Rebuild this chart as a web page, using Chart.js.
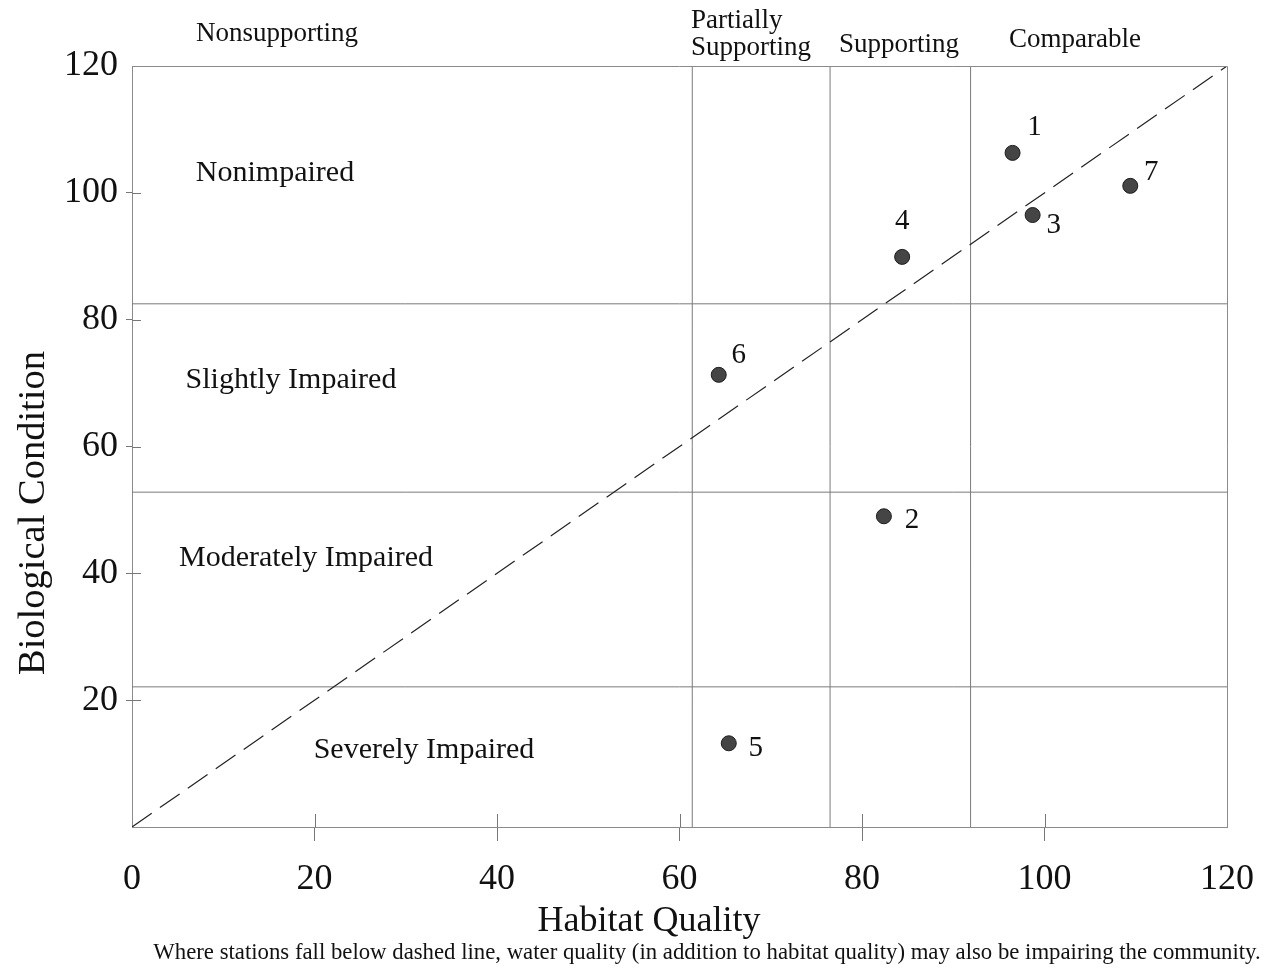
<!DOCTYPE html>
<html><head><meta charset="utf-8">
<script src="https://cdn.jsdelivr.net/npm/chart.js@4/dist/chart.umd.min.js"></script>
<style>html,body{margin:0;padding:0;background:#fff}#wrap{width:1280px;height:968px;position:relative}</style>
</head><body><div id="wrap"><canvas id="c" width="1280" height="968"></canvas></div>
<script>
// ---- data ----
const stations = ['1', '2', '3', '4', '5', '6', '7'];
const habitatQuality = [96.5, 82.4, 98.7, 84.4, 65.4, 64.3, 109.4];
const biologicalCondition = [106.3, 49.0, 96.5, 89.9, 13.2, 71.3, 101.1];
const habitatBreaks = [61.4, 76.5, 91.9];
const biologicalBreaks = [82.5, 52.8, 22.1];
const referenceLine = [0, 120];
const xTickValues = [0, 20, 40, 60, 80, 100, 120];
const yTickValues = [0, 20, 40, 60, 80, 100, 120];
const habitatCategories = ['Nonsupporting', 'Partially|Supporting', 'Supporting', 'Comparable'];
const biologicalCategories = ['Nonimpaired', 'Slightly Impaired', 'Moderately Impaired', 'Severely Impaired'];
const xTitle = 'Habitat Quality';
const yTitle = 'Biological Condition';
const footnote = 'Where stations fall below dashed line, water quality (in addition to habitat quality) may also be impairing the community.';

// ---- styles / placement (not data) ----
const FONT = "'Liberation Serif', 'Times New Roman', serif";
const labelOffsets = [[22, -25], [28, 4], [21, 10], [0, -35], [27, 5], [20, -19], [21, -13]];
const headerPos = [[277, 34, 'center'], [691, 21, 'left'], [839, 45, 'left'], [1009, 40, 'left']];
const rowPos = [[275, 173], [291, 380], [306, 558], [424, 750]];

const datasets = [];
datasets.push({
  label: 'Stations',
  data: stations.map((s, i) => ({x: habitatQuality[i], y: biologicalCondition[i]})),
  pointRadius: 7.5, pointHoverRadius: 7.5,
  backgroundColor: '#454545', borderColor: '#1c1c1c', borderWidth: 1,
  showLine: false
});
datasets.push({
  label: 'Reference',
  data: referenceLine.map(v => ({x: v, y: v})),
  showLine: true, pointRadius: 0, borderColor: '#222', borderWidth: 1.2,
  borderDash: [24, 10], fill: false
});
habitatBreaks.forEach(b => datasets.push({
  label: 'h' + b, data: [{x: b, y: 0}, {x: b, y: 120}],
  showLine: true, pointRadius: 0, borderColor: '#7a7a7a', borderWidth: 1, fill: false
}));
biologicalBreaks.forEach(b => datasets.push({
  label: 'b' + b, data: [{x: 0, y: b}, {x: 120, y: b}],
  showLine: true, pointRadius: 0, borderColor: '#7a7a7a', borderWidth: 1, fill: false
}));

const textPlugin = {
  id: 'texts',
  afterDraw(chart) {
    const ctx = chart.ctx;
    const a = chart.chartArea;
    const xs = chart.scales.x, ys = chart.scales.y;
    ctx.save();
    // box
    ctx.strokeStyle = '#8a8a8a'; ctx.lineWidth = 1;
    ctx.beginPath();
    ctx.moveTo(a.left, a.top + 0.5); ctx.lineTo(a.right + 0.5, a.top + 0.5); ctx.lineTo(a.right + 0.5, a.bottom);
    ctx.stroke();
    // inner tick parts
    ctx.strokeStyle = '#777';
    ctx.beginPath();
    xTickValues.forEach(v => { if (v > 0 && v < 120) { const px = Math.round(xs.getPixelForValue(v)) + 0.5; ctx.moveTo(px, a.bottom); ctx.lineTo(px, a.bottom - 13); } });
    yTickValues.forEach(v => { if (v > 0 && v < 120) { const py = Math.round(ys.getPixelForValue(v)) + 0.5; ctx.moveTo(a.left, py); ctx.lineTo(a.left + 9, py); } });
    ctx.stroke();

    ctx.fillStyle = '#111';
    ctx.textBaseline = 'middle';
    // point labels
    ctx.font = '29px ' + FONT; ctx.textAlign = 'center';
    stations.forEach((s, i) => {
      const px = xs.getPixelForValue(habitatQuality[i]) + labelOffsets[i][0];
      const py = ys.getPixelForValue(biologicalCondition[i]) + labelOffsets[i][1];
      ctx.fillText(s, px, py);
    });
    // headers
    ctx.font = '27px ' + FONT;
    habitatCategories.forEach((t, i) => {
      const [x, y, al] = headerPos[i];
      ctx.textAlign = al;
      const parts = t.split('|');
      parts.forEach((p, k) => ctx.fillText(p, x, y + k * 27));
    });
    // rows
    ctx.font = '30px ' + FONT; ctx.textAlign = 'center';
    biologicalCategories.forEach((t, i) => ctx.fillText(t, rowPos[i][0], rowPos[i][1]));
    // axis titles
    ctx.font = '36px ' + FONT;
    ctx.fillText(xTitle, 649, 922);
    ctx.save();
    ctx.translate(34, 513); ctx.rotate(-Math.PI / 2);
    ctx.font = '38.5px ' + FONT;
    ctx.fillText(yTitle, 0, 0);
    ctx.restore();
    // footnote
    ctx.font = '20px ' + FONT;
    const w = ctx.measureText(footnote).width;
    const fs = 20 * 1108 / w;
    ctx.font = fs.toFixed(2) + 'px ' + FONT;
    ctx.fillText(footnote, 707, 953);
    ctx.restore();
  }
};

new Chart(document.getElementById('c'), {
  type: 'scatter',
  data: {datasets},
  options: {
    responsive: false, animation: false, devicePixelRatio: 1,
    layout: {padding: {top: 66, right: 53, left: 0, bottom: 0}},
    plugins: {legend: {display: false}, tooltip: {enabled: false}, title: {display: false}},
    scales: {
      x: {
        type: 'linear', min: 0, max: 120,
        afterBuildTicks: s => { s.ticks = xTickValues.map(v => ({value: v})); },
        afterFit: s => { s.height = 141; },
        grid: {drawOnChartArea: false, tickLength: 14,
          color: c => (c.tick && (c.tick.value === 0 || c.tick.value === 120)) ? 'rgba(0,0,0,0)' : '#777'},
        border: {display: true, color: '#8a8a8a', width: 1},
        ticks: {font: {family: FONT, size: 36}, color: '#111', padding: 17, maxRotation: 0}
      },
      y: {
        type: 'linear', min: 0, max: 120,
        afterBuildTicks: s => { s.ticks = yTickValues.map(v => ({value: v})); },
        afterFit: s => { s.width = 132; },
        grid: {drawOnChartArea: false, tickLength: 6,
          color: c => (c.tick && (c.tick.value === 0 || c.tick.value === 120)) ? 'rgba(0,0,0,0)' : '#777'},
        border: {display: true, color: '#8a8a8a', width: 1},
        ticks: {font: {family: FONT, size: 36}, color: '#111', padding: 8,
          callback: v => (v === 0 ? '' : String(v))}
      }
    }
  },
  plugins: [textPlugin]
});
</script></body></html>
